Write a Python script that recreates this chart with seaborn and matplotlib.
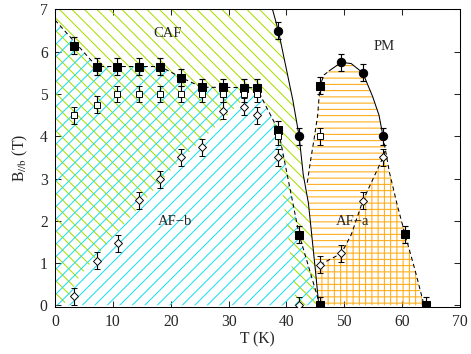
import numpy as np
import matplotlib.pyplot as plt
from matplotlib.patches import Polygon
import seaborn as sns

# measured points (T in K, B in T), error bars are +-0.2 T
fsq_T = [3.3, 7.2, 10.7, 14.5, 18.2, 21.8, 25.4, 29.1, 32.6, 34.9, 38.6, 42.2, 45.8, 45.8, 60.5, 64.1]
fsq_B = [6.14, 5.65, 5.65, 5.65, 5.65, 5.39, 5.16, 5.16, 5.15, 5.15, 4.15, 1.67, 0.0, 5.2, 1.68, 0.0]

osq_T = [3.3, 7.2, 10.7, 14.5, 18.2, 21.8, 25.4, 29.1, 32.6, 34.9, 38.6, 45.8]
osq_B = [4.5, 4.75, 5.0, 5.0, 5.0, 5.0, 5.0, 5.0, 5.0, 5.0, 4.0, 4.0]

dia_T = [3.3, 7.2, 10.9, 14.5, 18.2, 21.8, 25.4, 29.1, 32.6, 34.9, 38.6, 42.2, 45.8, 49.5, 53.2, 56.7]
dia_B = [0.21, 1.06, 1.47, 2.48, 2.98, 3.5, 3.74, 4.6, 4.7, 4.5, 3.5, 0.0, 0.96, 1.23, 2.47, 3.5]

circ_T = [38.6, 42.2, 49.5, 53.2, 56.7]
circ_B = [6.5, 4.0, 5.75, 5.5, 4.0]

err = 0.2

# phase boundaries
solid_T = [37.6, 38.6, 39.9, 41.1, 42.2, 42.9, 43.8, 45.0, 45.6]
solid_B = [7.0, 6.5, 5.65, 4.86, 4.0, 3.1, 2.42, 0.84, 0.0]

dashed_T = [0.0, 7.2, 18.2, 21.8, 25.4, 34.9, 36.2, 38.6, 42.2, 45.8]
dashed_B = [6.75, 5.65, 5.65, 5.39, 5.16, 5.15, 4.78, 4.15, 1.67, 0.0]

# lower edge of the CAF hatch (AF-b boundary)
afb_T = [41.7, 38.8, 37.6, 36.6, 35.5, 33.6, 20.3, 4.3, 1.5]
afb_B = [0.0, 3.24, 4.45, 4.75, 4.95, 5.0, 3.24, 0.7, 0.0]

afa_top_T = [47.4, 49.5, 51.2, 53.2, 54.9, 56.0, 56.7]
afa_top_B = [5.55, 5.75, 5.72, 5.5, 4.94, 4.5, 4.0]
afa_right_T = [56.7, 57.8, 59.2, 60.5, 62.2, 63.8]
afa_right_B = [4.0, 3.15, 2.35, 1.68, 0.85, 0.0]
afa_left_T = [43.6, 44.2, 44.8, 45.4, 45.8, 46.5, 47.4]
afa_left_B = [2.9, 3.45, 3.95, 4.5, 5.2, 5.45, 5.55]
afa_in_T = [45.0, 45.8, 49.5, 51.2, 53.2, 56.7, 57.1]
afa_in_B = [0.9, 0.96, 1.23, 1.67, 2.47, 3.5, 3.7]

sns.set_style("ticks")
plt.rcParams["font.family"] = ["Liberation Serif", "DejaVu Serif"]
plt.rcParams["mathtext.fontset"] = "stix"
plt.rcParams["hatch.linewidth"] = 1.0

fig = plt.figure(figsize=(471 / 75, 354 / 75), dpi=75)
ax = fig.add_axes([0.1168, 0.1328, 0.8598, 0.8404])

green = "#a8e000"
cyan = "#1ee0f0"
orange = "#ffaa10"

# CAF hatch
caf = [(0, 7)] + list(zip(solid_T, solid_B)) + list(zip(afb_T, afb_B)) + [(0, 0)]
ax.add_patch(Polygon(caf, closed=True, fill=False, hatch="\\\\", edgecolor=green, lw=0, zorder=1))

# AF-b hatch (below the filled-square line)
afb = [(0, 0)] + list(zip(dashed_T, dashed_B))
ax.add_patch(Polygon(afb, closed=True, fill=False, hatch="//", edgecolor=cyan, lw=0, zorder=1))

# AF-a hatch
afa = (list(zip(afa_left_T, afa_left_B)) + list(zip(afa_top_T[1:], afa_top_B[1:]))
       + list(zip(afa_right_T[1:], afa_right_B[1:])) + [(45.6, 0), (45.0, 0.84), (43.8, 2.42)])
ax.add_patch(Polygon(afa, closed=True, fill=False, hatch="--", edgecolor=orange, lw=0, zorder=1))
afa_low = (list(zip(afa_in_T, afa_in_B)) + [(57.8, 3.15), (59.2, 2.35), (60.5, 1.68), (62.2, 0.85), (63.8, 0.0)]
           + [(45.6, 0), (45.0, 0.84)])
ax.add_patch(Polygon(afa_low, closed=True, fill=False, hatch="||", edgecolor=orange, lw=0, zorder=1))

# boundary lines
dash = (0, (4, 3))
sns.lineplot(x=solid_T, y=solid_B, sort=False, estimator=None, color="k", lw=1, ax=ax)
sns.lineplot(x=dashed_T, y=dashed_B, sort=False, estimator=None, color="k", lw=1, linestyle=dash, ax=ax)
sns.lineplot(x=afa_top_T, y=afa_top_B, sort=False, estimator=None, color="k", lw=1, ax=ax)
sns.lineplot(x=afa_right_T, y=afa_right_B, sort=False, estimator=None, color="k", lw=1, linestyle=dash, ax=ax)
sns.lineplot(x=afa_left_T, y=afa_left_B, sort=False, estimator=None, color="k", lw=1, linestyle=dash, ax=ax)
sns.lineplot(x=afa_in_T[1:], y=afa_in_B[1:], sort=False, estimator=None, color="k", lw=1, linestyle=dash, ax=ax)

# data with error bars
eb = dict(yerr=err, ecolor="k", elinewidth=1.1, capsize=3, capthick=1.1, linestyle="none", zorder=3)
ax.errorbar(fsq_T, fsq_B, fmt="s", ms=7, mfc="k", mec="k", **eb)
ax.errorbar(osq_T, osq_B, fmt="s", ms=6, mfc="white", mec="k", mew=0.9, **eb)
ax.errorbar(dia_T, dia_B, fmt="D", ms=6, mfc="white", mec="k", mew=0.9, **eb)
ax.errorbar(circ_T, circ_B, fmt="o", ms=8, mfc="k", mec="k", **eb)

ax.text(19.5, 6.42, "CAF", fontsize=14, ha="center", va="center")
ax.text(56.9, 6.12, "PM", fontsize=14, ha="center", va="center")
ax.text(20.7, 1.98, "AF\u2212b", fontsize=14, ha="center", va="center")
ax.text(51.5, 1.98, "AF\u2212a", fontsize=14, ha="center", va="center")

ax.set_xlim(0, 70)
ax.set_ylim(-0.04, 7)
ax.set_xticks(np.arange(0, 71, 10))
ax.set_yticks(np.arange(0, 8, 1))
ax.tick_params(direction="in", top=True, right=True, length=6, width=1, labelsize=15, pad=7)
for s in ax.spines.values():
    s.set_linewidth(1)
    s.set_color("k")
ax.set_xlabel("T (K)", fontsize=15, labelpad=1)
ax.set_ylabel(r"B$_{//\mathrm{b}}$ (T)", fontsize=15, labelpad=9)

fig.savefig("out.png", dpi=75)
